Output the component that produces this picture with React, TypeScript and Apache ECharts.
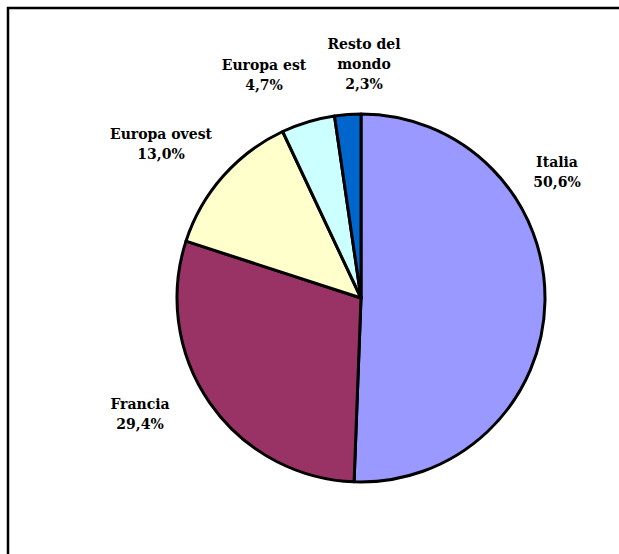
import React, { useEffect, useRef } from "react";
import * as echarts from "echarts";

const categories = ["Italia", "Francia", "Europa ovest", "Europa est", "Resto del mondo"];
const shares = [50.6, 29.4, 13.0, 4.7, 2.3];
const sliceColors = ["#9999FF", "#993366", "#FFFFCC", "#CCFFFF", "#0066CC"];

// label block centres (layout only)
const LABEL_POS: [number, number][] = [
  [557, 172],
  [140, 414],
  [161, 144],
  [264, 75],
  [364, 64],
];

function fmtLabel(name: string, value: number): string {
  const n = name === "Resto del mondo" ? "Resto del\nmondo" : name;
  return n + "\n" + value.toFixed(1).replace(".", ",") + "%";
}

export default function App() {
  const ref = useRef<HTMLDivElement>(null);
  useEffect(() => {
    document.body.style.margin = "0";
    const chart = echarts.init(ref.current!, undefined, { renderer: "svg" });
    chart.setOption({
      animation: false,
      backgroundColor: "#ffffff",
      graphic: [
        {
          type: "rect",
          shape: { x: 8, y: 8, width: 640, height: 580 },
          style: { fill: "none", stroke: "#000", lineWidth: 2.5 },
          silent: true,
        },
      ],
      series: [
        {
          type: "pie",
          center: [361, 298],
          radius: 184,
          startAngle: 90,
          clockwise: true,
          data: categories.map((c, i) => ({
            name: c,
            value: shares[i],
            itemStyle: { color: sliceColors[i] },
          })),
          itemStyle: { borderColor: "#000", borderWidth: 3 },
          label: {
            show: true,
            position: "outside",
            alignTo: "none",
            overflow: "none",
            formatter: (p: any) => fmtLabel(p.name, p.value),
            fontFamily: "DejaVu Serif",
            fontWeight: "bold",
            fontSize: 14,
            lineHeight: 20,
            color: "#000",
            align: "center",
          },
          labelLine: { show: false },
          labelLayout: (params: any) => {
            const pos = LABEL_POS[params.dataIndex];
            return { x: pos[0], y: pos[1], align: "center", verticalAlign: "middle" };
          },
          emphasis: { disabled: true },
        },
      ],
    });
    return () => chart.dispose();
  }, []);
  return <div ref={ref} style={{ width: 619, height: 554 }} />;
}
